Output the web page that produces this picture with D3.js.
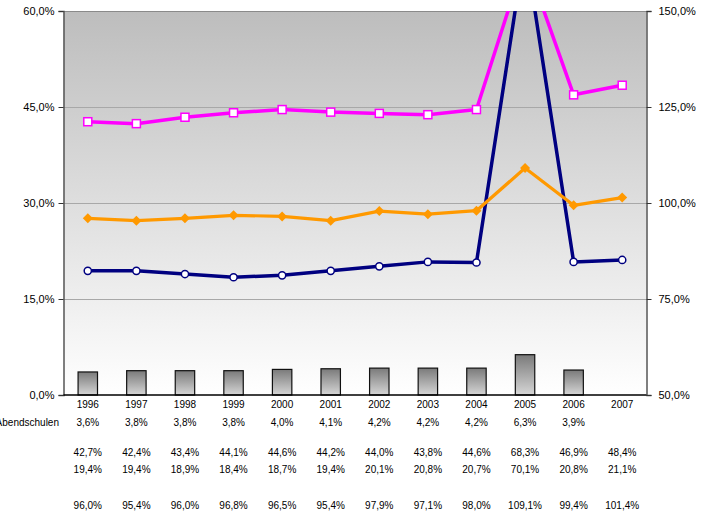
<!DOCTYPE html>
<html>
<head>
<meta charset="utf-8">
<script src="https://cdn.jsdelivr.net/npm/d3@7"></script>
<style>
  body { margin: 0; background: #fff; }
  text { font-family: Arial, "Liberation Sans", sans-serif; fill: #000; }
</style>
</head>
<body>
<div id="chart"></div>
<script>
const years = ['1996','1997','1998','1999','2000','2001','2002','2003','2004','2005','2006','2007'];
const abendschulen = [3.6, 3.8, 3.8, 3.8, 4.0, 4.1, 4.2, 4.2, 4.2, 6.3, 3.9, null];
const pinkSeries = [42.7, 42.4, 43.4, 44.1, 44.6, 44.2, 44.0, 43.8, 44.6, 68.3, 46.9, 48.4];
const navySeries = [19.4, 19.4, 18.9, 18.4, 18.7, 19.4, 20.1, 20.8, 20.7, 70.1, 20.8, 21.1];
const orangeSeries = [96.0, 95.4, 96.0, 96.8, 96.5, 95.4, 97.9, 97.1, 98.0, 109.1, 99.4, 101.4];
const leftTicks = [0, 15, 30, 45, 60];
const rightTicks = [50, 75, 100, 125, 150];

const W = 708, H = 516;
const plot = { left: 63.5, right: 646.5, top: 11, bottom: 395 };

const de = d3.formatLocale({ decimal: ',', thousands: '.', grouping: [3], currency: ['', '€'] });
const fmt = v => de.format('.1f')(v) + '%';

const svg = d3.select('#chart').append('svg')
  .attr('width', W).attr('height', H);

const defs = svg.append('defs');
const bg = defs.append('linearGradient').attr('id', 'bg')
  .attr('x1', 0).attr('y1', 0).attr('x2', 0).attr('y2', 1);
bg.append('stop').attr('offset', '0%').attr('stop-color', '#bdbdbd');
bg.append('stop').attr('offset', '100%').attr('stop-color', '#ffffff');
const barGrad = defs.append('linearGradient').attr('id', 'barGrad')
  .attr('x1', 0).attr('y1', 0).attr('x2', 0).attr('y2', 1);
barGrad.append('stop').attr('offset', '0%').attr('stop-color', '#7a7a7a');
barGrad.append('stop').attr('offset', '100%').attr('stop-color', '#d6d6d6');
defs.append('clipPath').attr('id', 'clip').append('rect')
  .attr('x', plot.left).attr('y', plot.top)
  .attr('width', plot.right - plot.left).attr('height', plot.bottom - plot.top);

const x = d3.scaleBand().domain(years).range([plot.left, plot.right]);
const yL = d3.scaleLinear().domain([0, 60]).range([plot.bottom, plot.top]);
const yR = d3.scaleLinear().domain([50, 150]).range([plot.bottom, plot.top]);
const cx = d => x(d) + x.bandwidth() / 2;

// plot background
svg.append('rect')
  .attr('x', plot.left).attr('y', plot.top)
  .attr('width', plot.right - plot.left).attr('height', plot.bottom - plot.top)
  .attr('fill', 'url(#bg)');

// gridlines
svg.append('g').selectAll('line')
  .data(leftTicks.filter(t => t > 0))
  .enter().append('line')
  .attr('x1', plot.left).attr('x2', plot.right)
  .attr('y1', d => Math.round(yL(d)) + 0.5).attr('y2', d => Math.round(yL(d)) + 0.5)
  .attr('stroke', d => d === 60 ? '#8a8a8a' : '#a8a8a8').attr('stroke-width', 1);

// bars
const barW = x.bandwidth() * 0.4;
svg.append('g').selectAll('rect')
  .data(years.map((y, i) => ({ y, v: abendschulen[i] })).filter(d => d.v != null))
  .enter().append('rect')
  .attr('x', d => cx(d.y) - barW / 2)
  .attr('y', d => yL(d.v))
  .attr('width', barW)
  .attr('height', d => plot.bottom - yL(d.v))
  .attr('fill', 'url(#barGrad)')
  .attr('stroke', '#111').attr('stroke-width', 1.2);

const lines = svg.append('g').attr('clip-path', 'url(#clip)');

function drawLine(values, yScale, color, width) {
  const pts = years.map((y, i) => [cx(y), yScale(values[i])]);
  lines.append('path')
    .attr('d', d3.line()(pts))
    .attr('fill', 'none').attr('stroke', color)
    .attr('stroke-width', width).attr('stroke-linejoin', 'round');
  return pts;
}

const navyPts = drawLine(navySeries, yL, '#000080', 3.5);
const orangePts = drawLine(orangeSeries, yR, '#ff9900', 3.2);
const pinkPts = drawLine(pinkSeries, yL, '#ff00ff', 3.5);

// markers
lines.selectAll('.circ').data(navyPts).enter().append('circle')
  .attr('cx', d => d[0]).attr('cy', d => d[1]).attr('r', 3.6)
  .attr('fill', '#fff').attr('stroke', '#000080').attr('stroke-width', 1.5);
lines.selectAll('.dia').data(orangePts).enter().append('path')
  .attr('transform', d => `translate(${d[0]},${d[1]})`)
  .attr('d', 'M0,-5L5,0L0,5L-5,0Z')
  .attr('fill', '#ff9900');
lines.selectAll('.sq').data(pinkPts).enter().append('rect')
  .attr('x', d => d[0] - 4).attr('y', d => d[1] - 4)
  .attr('width', 8).attr('height', 8)
  .attr('fill', '#fff').attr('stroke', '#ff00ff').attr('stroke-width', 1.5);

// axes
const axL = svg.append('g').attr('transform', `translate(${plot.left},0)`)
  .call(d3.axisLeft(yL).tickValues(leftTicks).tickFormat(fmt).tickSize(5).tickPadding(4));
const axR = svg.append('g').attr('transform', `translate(${plot.right},0)`)
  .call(d3.axisRight(yR).tickValues(rightTicks).tickFormat(fmt).tickSize(5).tickPadding(4));
[axL, axR].forEach(a => {
  a.select('.domain').attr('stroke', '#555').attr('stroke-width', 1.5);
  a.selectAll('.tick line').attr('stroke', '#333');
  a.selectAll('text').attr('font-size', 11).attr('fill', '#000');
});
axR.selectAll('text').attr('dx', 3);
svg.append('line')
  .attr('x1', plot.left).attr('x2', plot.right)
  .attr('y1', plot.bottom).attr('y2', plot.bottom)
  .attr('stroke', '#000').attr('stroke-width', 1.5);

// data table below
const rows = [
  { label: '', y: 408, vals: years },
  { label: 'Abendschulen', y: 426, vals: abendschulen.map(v => v == null ? '' : fmt(v)) },
  { label: '', y: 456, vals: pinkSeries.map(fmt) },
  { label: '', y: 473, vals: navySeries.map(fmt) },
  { label: '', y: 509, vals: orangeSeries.map(fmt) }
];
const table = svg.append('g').attr('font-size', 10);
rows.forEach(r => {
  table.append('text').attr('x', 59).attr('y', r.y)
    .attr('text-anchor', 'end').attr('font-size', 10).text(r.label);
  table.selectAll(null).data(r.vals.map((v, i) => ({ v, yr: years[i] })))
    .enter().append('text')
    .attr('x', d => cx(d.yr)).attr('y', r.y)
    .attr('text-anchor', 'middle').attr('font-size', 10)
    .text(d => d.v);
});
</script>
</body>
</html>
